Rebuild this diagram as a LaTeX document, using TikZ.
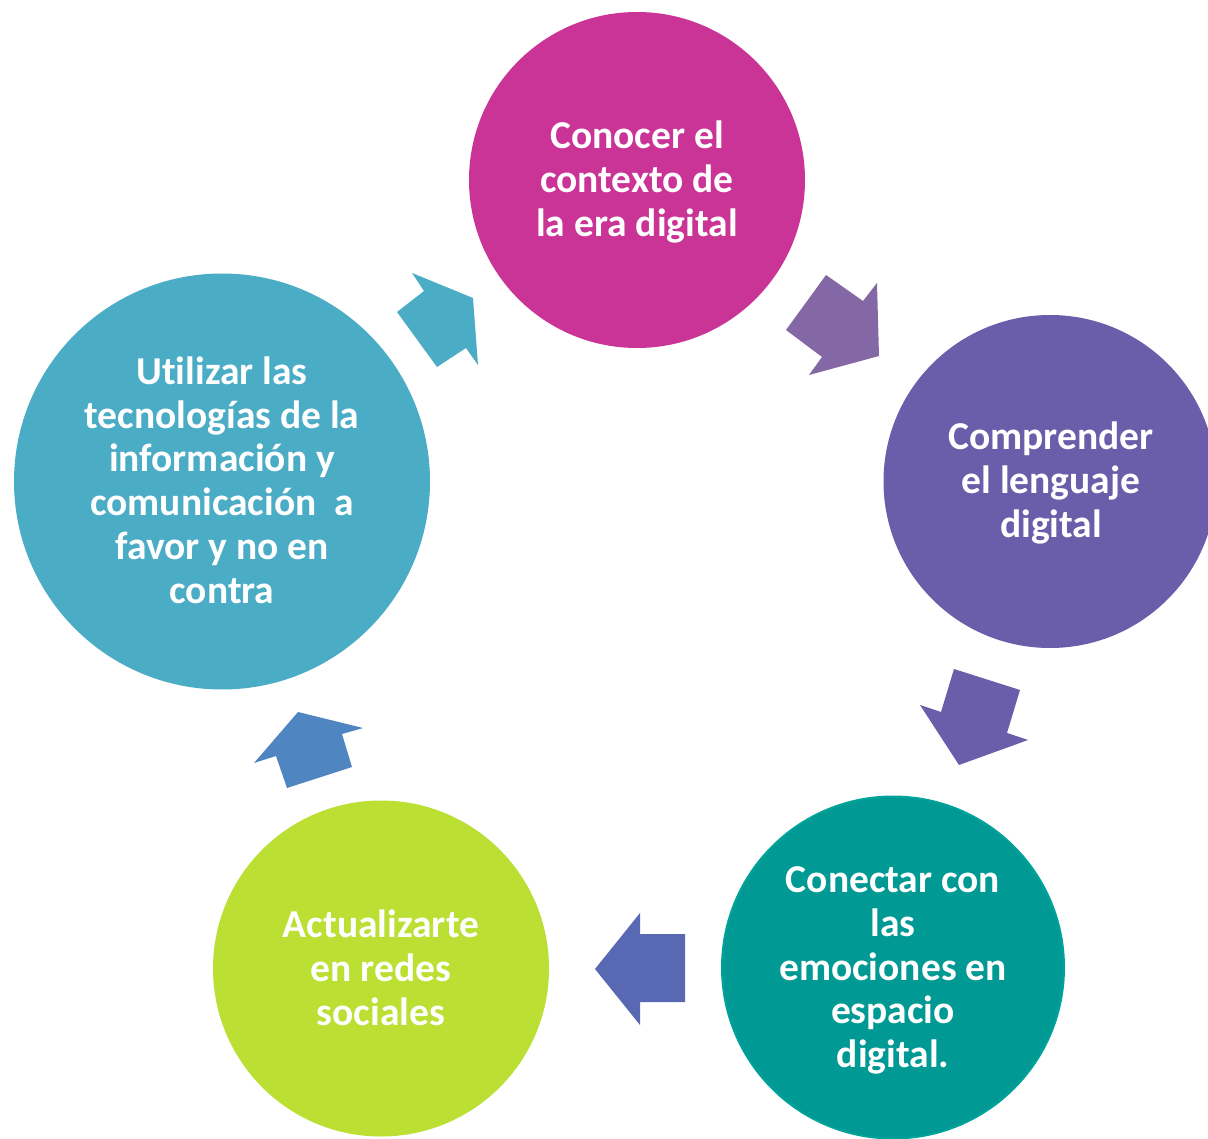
\documentclass[tikz,border=0pt]{standalone}
\usepackage{fontspec}
\setmainfont{Carlito}[Ligatures={NoCommon}]
\definecolor{cmag}{HTML}{C93496}
\definecolor{cpur}{HTML}{6A5EAA}
\definecolor{cteal}{HTML}{009994}
\definecolor{ctealedge}{HTML}{00A39A}
\definecolor{clime}{HTML}{BBE033}
\definecolor{ccyan}{HTML}{4BACC6}
\definecolor{carA}{HTML}{8467A5}
\definecolor{carB}{HTML}{6A5EAA}
\definecolor{carC}{HTML}{5868B2}
\definecolor{carD}{HTML}{4F86C1}
\definecolor{carE}{HTML}{4BACC6}
\tikzset{
  bubble/.style={circle, inner sep=0pt, text=white, align=center,
    font=\fontsize{39.5}{43.8}\selectfont\bfseries},
  bubbletext/.style={inner sep=0pt, text=white, align=center,
    font=\fontsize{39.5}{43.8}\selectfont\bfseries}
}
\begin{document}
\begin{tikzpicture}[x=1pt,y=-1pt]
\useasboundingbox (0,0) rectangle (1208,1139);
\fill[white] (0,0) rectangle (1208,1139);
% circles
\node[bubble, fill=cmag, minimum size=336pt] (c1) at (637,180) {};
\node[bubble, fill=cpur, minimum size=333pt] (c2) at (1050,481.5) {};
\node[bubble, fill=cteal, draw=ctealedge, line width=2pt, minimum size=342pt] (c3) at (893,967.5) {};
\node[bubble, fill=clime, minimum size=336pt] (c4) at (381,968.5) {};
\node[bubble, fill=ccyan, minimum size=416pt] (c5) at (222,481.5) {};
% texts
\node[bubbletext] (t1) at (637,182) {Conocer el\\contexto de\\la era digital};
\node[bubbletext] (t2) at (1051,483) {Comprender\\el lenguaje\\digital};
\node[bubbletext] (t3) at (893,970.5) {Conectar con\\las\\emociones en\\espacio\\digital.};
\node[bubbletext] (t4) at (381,968) {Actualizarte\\en redes\\sociales};
\node[bubbletext] (t5) at (222,480) {Utilizar las\\tecnologías de la\\información y\\comunicación\ \ a\\favor y no en\\contra};
% block arrows
\fill[carA] (826,275) -- (863,301) -- (877,283) -- (879,356) -- (809,375) -- (822,357) -- (786,330) -- cycle;
\fill[carB] (954,669) -- (1020,690) -- (1007,733) -- (1028,740) -- (959,765) -- (920,705) -- (941,712) -- cycle;
\fill[carC] (685,934) -- (685,1002) -- (640,1002) -- (640,1025) -- (595,969) -- (640,913) -- (640,934) -- cycle;
\fill[carD] (254,763) -- (298,712) -- (363,728) -- (342,734) -- (352,767) -- (287,788) -- (276,756) -- cycle;
\fill[carE] (412,273) -- (473,298) -- (478,365) -- (466,348) -- (437,367) -- (397,312) -- (424,291) -- cycle;
\end{tikzpicture}
\end{document}
